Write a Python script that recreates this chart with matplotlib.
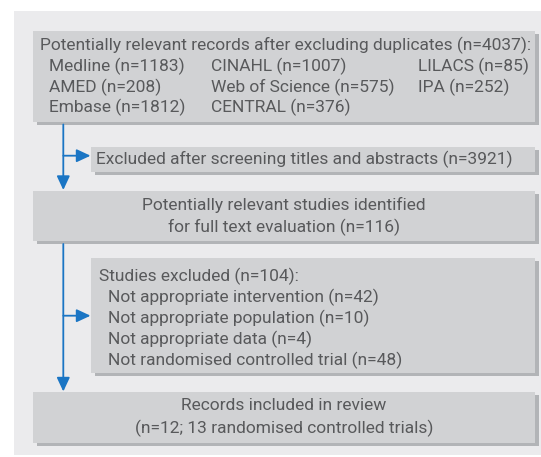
import matplotlib
matplotlib.use("Agg")
import matplotlib.pyplot as plt
from matplotlib.patches import Rectangle, FancyArrowPatch

# data
total_records = 4037
sources = ["Medline", "CINAHL", "LILACS", "AMED", "Web of Science", "IPA", "Embase", "CENTRAL"]
source_n = [1183, 1007, 85, 208, 575, 252, 1812, 376]
excluded_screening = 3921
full_text = 116
excluded_reasons = ["Not appropriate intervention", "Not appropriate population",
                    "Not appropriate data", "Not randomised controlled trial"]
excluded_n = [42, 10, 4, 48]
included_records = 12
included_trials = 13

W, H = 541, 457
BG = "#ebebed"
BOX = "#d1d2d4"
SHADOW = "#b2b4b7"
TXT = "#58595b"
BLUE = "#1a75c4"
FONT = ["Roboto", "DejaVu Sans"]

fig = plt.figure(figsize=(W / 100, H / 100), dpi=100)
ax = fig.add_axes([0, 0, 1, 1])
ax.set_xlim(0, W)
ax.set_ylim(H, 0)
ax.axis("off")

ax.add_patch(Rectangle((14, 11), W - 14, 444, color=BG, lw=0))


def box(x0, y0, x1, y1):
    ax.add_patch(Rectangle((x0 + 3.5, y0 + 3), x1 - x0, y1 - y0, color=SHADOW, lw=0))
    ax.add_patch(Rectangle((x0, y0), x1 - x0, y1 - y0, color=BOX, lw=0))


# pick font size so header line spans ~490 px
header = "Potentially relevant records after excluding duplicates (n=%d):" % total_records
t = fig.text(0, 0, header, fontsize=10, family=FONT)
fig.canvas.draw()
w = t.get_window_extent().width
t.remove()
fs = 10 * 491 / w

kw = dict(fontsize=fs, family=FONT, color=TXT, va="center")

box(33, 30.5, 535, 121.5)
ax.text(40.5, 45, header, ha="left", **kw)
col_x = [49, 211, 418]
row_y = [66.5, 87, 107.5]
for i, (s, n) in enumerate(zip(sources, source_n)):
    ax.text(col_x[i % 3], row_y[i // 3], "%s (n=%d)" % (s, n), ha="left", **kw)

box(91, 146.5, 535, 172)
ax.text(96.5, 159.5, "Excluded after screening titles and abstracts (n=%d)" % excluded_screening,
        ha="left", **kw)

box(33, 191, 535, 241)
ax.text(284, 205, "Potentially relevant studies identified", ha="center", **kw)
ax.text(284, 227, "for full text evaluation (n=%d)" % full_text, ha="center", **kw)

box(91, 258, 535, 372.5)
ax.text(99, 276, "Studies excluded (n=%d):" % sum(excluded_n), ha="left", **kw)
for i, (r, n) in enumerate(zip(excluded_reasons, excluded_n)):
    ax.text(107.5, 297 + 21 * i, "%s (n=%d)" % (r, n), ha="left", **kw)

box(33, 392, 535, 443)
ax.text(284, 406, "Records included in review", ha="center", **kw)
ax.text(284, 428.5, "(n=%d; %d randomised controlled trials)" % (included_records, included_trials),
        ha="center", **kw)

# connectors
lx = 63.3
ap = dict(arrowstyle="-|>,head_length=0.6,head_width=0.28", color=BLUE, lw=1.3,
          mutation_scale=14, shrinkA=0, shrinkB=0)
ax.add_patch(FancyArrowPatch((lx, 124.5), (lx, 190), **ap))
ax.add_patch(FancyArrowPatch((lx, 155.7), (90.5, 155.7), **ap))
ax.add_patch(FancyArrowPatch((lx, 244), (lx, 391.5), **ap))
ax.add_patch(FancyArrowPatch((lx, 315.7), (90.5, 315.7), **ap))

fig.savefig("out.png", dpi=100, facecolor="white")
